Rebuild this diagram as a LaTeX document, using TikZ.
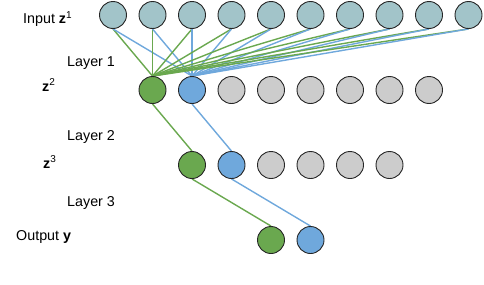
\documentclass[tikz,border=0pt]{standalone}
\usepackage{fontspec}
\setmainfont{Liberation Sans}
\usetikzlibrary{backgrounds}
\definecolor{inpc}{HTML}{A2C4C9}
\definecolor{grayc}{HTML}{CCCCCC}
\definecolor{greenc}{HTML}{6AA84F}
\definecolor{bluec}{HTML}{6FA8DC}
\begin{document}
\begin{tikzpicture}[x=1pt,y=-1pt,
  neuron/.style={circle,draw=black!85,line width=0.9pt,minimum size=27pt,inner sep=0pt},
  inp/.style={neuron,fill=inpc},
  hid/.style={neuron,fill=grayc},
  gn/.style={neuron,fill=greenc},
  bn/.style={neuron,fill=bluec},
  gl/.style={draw=greenc,line width=1.4pt},
  bl/.style={draw=bluec,line width=1.4pt},
  lbl/.style={font=\fontsize{14.3}{16}\selectfont,inner sep=0pt}]
\useasboundingbox (0,0) rectangle (484,284);
% input row
\foreach \i/\x in {1/113,2/152.5,3/192,4/231.5,5/271,6/310.5,7/350,8/389.5,9/429,10/468.5}
  \node[inp] (i\i) at (\x,15) {};
% layer z2
\node[gn] (a1) at (152.5,90) {};
\node[bn] (a2) at (192,90) {};
\foreach \i/\x in {3/231.5,4/271,5/310.5,6/350,7/389.5,8/429}
  \node[hid] (a\i) at (\x,90) {};
% layer z3
\node[gn] (b1) at (192,165) {};
\node[bn] (b2) at (231.5,165) {};
\foreach \i/\x in {3/271,4/310.5,5/350,6/389.5}
  \node[hid] (b\i) at (\x,165) {};
% output
\node[gn] (o1) at (271,240) {};
\node[bn] (o2) at (310.5,240) {};
% connectors
\begin{scope}[on background layer]
\foreach \i in {1,...,10} {
  \draw[gl] (i\i.south) -- (a1.north);
  \draw[bl] (i\i.south) -- (a2.north);
}
\draw[gl] (a1.south) -- (b1.north);
\draw[bl] (a2.south) -- (b2.north);
\draw[gl] (b1.south) -- (o1.north);
\draw[bl] (b2.south) -- (o2.north);
\end{scope}
% labels
\node[lbl,anchor=west] (tin) at (23,19) {Input \textbf{z}\textsuperscript{1}};
\node[lbl,anchor=west] (tl1) at (67,63) {Layer 1};
\node[lbl,anchor=west] (tz2) at (42,85) {\textbf{z}\textsuperscript{2}};
\node[lbl,anchor=west] (tl2) at (67,137) {Layer 2};
\node[lbl,anchor=west] (tz3) at (43,162) {\textbf{z}\textsuperscript{3}};
\node[lbl,anchor=west] (tl3) at (67,203) {Layer 3};
\node[lbl,anchor=west] (tout) at (16,237) {Output \textbf{y}};
\end{tikzpicture}
\end{document}
